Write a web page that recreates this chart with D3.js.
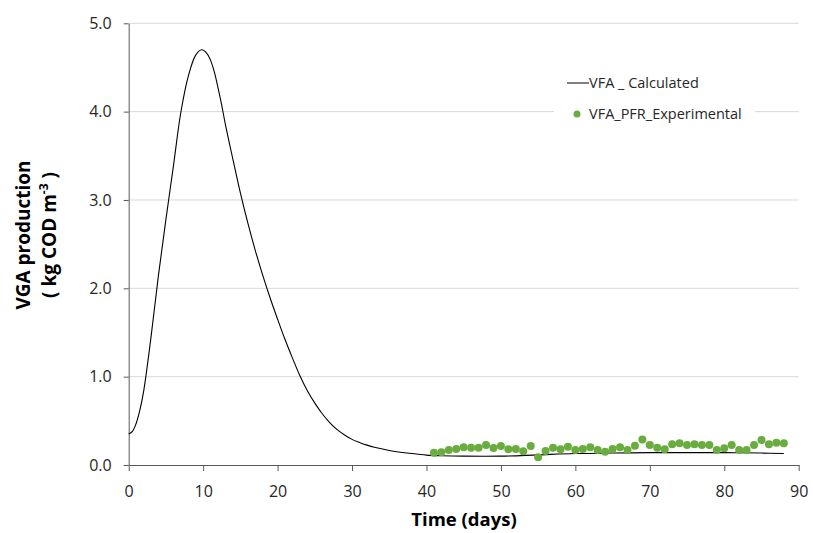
<!DOCTYPE html>
<html>
<head>
<meta charset="utf-8">
<script src="https://cdn.jsdelivr.net/npm/d3@7"></script>
<style>
body { margin: 0; background: #fff; }
svg { display: block; font-family: "Open Sans", "Noto Sans", sans-serif; }
</style>
</head>
<body>
<svg id="chart" width="813" height="533"></svg>
<script>
// Calculated VFA curve (days, kg COD m-3)
const calcDays = [0, 0.5, 1, 1.5, 2, 3, 4, 5, 6, 7, 8, 9, 9.8, 10.5, 11, 11.5, 12, 12.5, 13, 14, 15, 16, 17, 18, 19, 20, 21, 22, 23, 24, 25, 26, 27, 28, 29, 30, 31, 32, 33, 35, 38, 40, 42, 45, 50, 55, 60, 65, 70, 75, 80, 85, 88];
const calcValues = [0.35, 0.38, 0.47, 0.62, 0.83, 1.45, 2.15, 2.78, 3.38, 3.99, 4.40, 4.64, 4.70, 4.66, 4.58, 4.45, 4.27, 4.07, 3.85, 3.46, 3.08, 2.74, 2.43, 2.15, 1.89, 1.65, 1.42, 1.21, 1.01, 0.84, 0.70, 0.58, 0.48, 0.40, 0.34, 0.29, 0.255, 0.225, 0.20, 0.165, 0.13, 0.112, 0.105, 0.10, 0.10, 0.115, 0.13, 0.135, 0.14, 0.14, 0.14, 0.135, 0.13];

// Experimental PFR points (days 41..88)
const expDays = [41,42,43,44,45,46,47,48,49,50,51,52,53,54,55,56,57,58,59,60,61,62,63,64,65,66,67,68,69,70,71,72,73,74,75,76,77,78,79,80,81,82,83,84,85,86,87,88];
const expValues = [0.14,0.143,0.17,0.18,0.20,0.196,0.196,0.226,0.193,0.215,0.177,0.18,0.155,0.215,0.087,0.158,0.196,0.177,0.207,0.17,0.18,0.20,0.17,0.151,0.181,0.20,0.17,0.219,0.29,0.226,0.196,0.177,0.234,0.245,0.226,0.234,0.226,0.226,0.17,0.189,0.226,0.17,0.17,0.226,0.283,0.234,0.253,0.245];

const xTicks = [0, 10, 20, 30, 40, 50, 60, 70, 80, 90];
const yTicks = [0, 1, 2, 3, 4, 5];
const legendLabels = ["VFA _ Calculated", "VFA_PFR_Experimental"];

const svg = d3.select("#chart");
const pLeft = 128.7, pRight = 798.7, pTop = 23.3, pBottom = 465;

const x = d3.scaleLinear().domain([0, 90]).range([pLeft, pRight]);
const y = d3.scaleLinear().domain([0, 5]).range([pBottom, pTop]);

// gridlines
svg.append("g").selectAll("line").data(yTicks.filter(d => d > 0)).join("line")
  .attr("x1", pLeft).attr("x2", pRight)
  .attr("y1", d => y(d)).attr("y2", d => y(d))
  .attr("stroke", "#d9d9d9").attr("stroke-width", 1);

// y axis
const yAxis = svg.append("g").attr("transform", `translate(${pLeft},0)`)
  .call(d3.axisLeft(y).tickValues(yTicks).tickFormat(d3.format(".1f")).tickSize(5).tickSizeOuter(0));
yAxis.select(".domain").attr("stroke", "#595959");
yAxis.selectAll(".tick line").attr("stroke", "#595959");
yAxis.selectAll(".tick text").attr("font-size", 16).attr("fill", "#262626").attr("x", -17)
  .attr("font-family", "'Open Sans', sans-serif");

// x axis
const xAxis = svg.append("g").attr("transform", `translate(0,${pBottom})`)
  .call(d3.axisBottom(x).tickValues(xTicks).tickSize(6).tickSizeOuter(0));
xAxis.select(".domain").attr("stroke", "#595959");
xAxis.selectAll(".tick line").attr("stroke", "#595959");
xAxis.selectAll(".tick text").attr("font-size", 16).attr("fill", "#262626").attr("y", 21)
  .attr("font-family", "'Open Sans', sans-serif");

// calculated line
const calc = calcDays.map((d, i) => [d, calcValues[i]]);
svg.append("path").datum(calc)
  .attr("fill", "none").attr("stroke", "#000").attr("stroke-width", 1.1)
  .attr("d", d3.line().x(d => x(d[0])).y(d => y(d[1])).curve(d3.curveCatmullRom.alpha(0.5)));

// experimental points
const exp = expDays.map((d, i) => [d, expValues[i]]);
svg.append("g").selectAll("circle").data(exp).join("circle")
  .attr("cx", d => x(d[0])).attr("cy", d => y(d[1])).attr("r", 4)
  .attr("fill", "#6aad3f");

// legend
const lg = svg.append("g");
lg.append("rect").attr("x", 554).attr("y", 62).attr("width", 201).attr("height", 68).attr("fill", "#fff");
lg.append("line").attr("x1", 567).attr("x2", 589).attr("y1", 83).attr("y2", 83).attr("stroke", "#000").attr("stroke-width", 1);
lg.append("text").attr("x", 589).attr("y", 88).attr("font-size", 14.5).attr("fill", "#262626").text(legendLabels[0]);
lg.append("circle").attr("cx", 577).attr("cy", 114).attr("r", 3.5).attr("fill", "#6aad3f");
lg.append("text").attr("x", 589).attr("y", 119).attr("font-size", 14.5).attr("fill", "#262626").text(legendLabels[1]);

// axis titles
svg.append("text").attr("x", 464).attr("y", 526).attr("text-anchor", "middle")
  .attr("font-size", 18.5).attr("font-weight", "bold").attr("fill", "#000").text("Time (days)");

const yt = svg.append("text").attr("transform", "translate(0,235) rotate(-90)")
  .attr("text-anchor", "middle").attr("font-size", 19).attr("font-weight", "bold").attr("fill", "#000");
yt.append("tspan").attr("x", 0).attr("y", 30).text("VGA production");
const t2 = yt.append("tspan").attr("x", 0).attr("y", 56).text("( kg COD m");
t2.append("tspan").attr("baseline-shift", "super").attr("font-size", 12).text("-3");
t2.append("tspan").text(" )");
</script>
</body>
</html>
